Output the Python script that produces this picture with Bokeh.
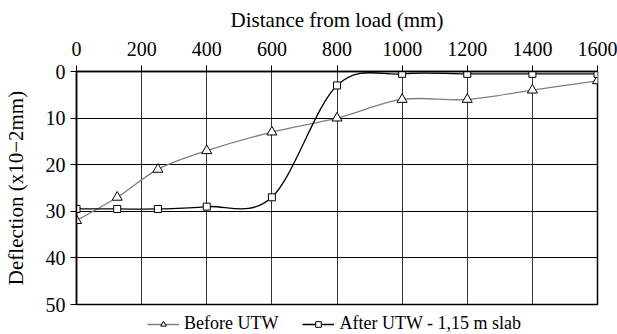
from bokeh.plotting import figure
from bokeh.models import Range1d, Legend, LegendItem, FixedTicker
from bokeh.layouts import column
from bokeh.embed import file_html
from bokeh.resources import INLINE

distance = [0, 125, 250, 400, 600, 800, 1000, 1200, 1400, 1600]
before_utw = [32, 27, 21, 17, 13, 10, 6, 6, 4, 2]
after_utw = [29.5, 29.5, 29.5, 29, 27, 3, 0.5, 0.5, 0.5, 0.5]
x_ticks = [0, 200, 400, 600, 800, 1000, 1200, 1400, 1600]
y_ticks = [0, 10, 20, 30, 40, 50]

FONT = "Liberation Serif"


def smooth_segments(xs, ys):
    n = len(xs)
    x0, y0, x1, y1, cx0, cy0, cx1, cy1 = [], [], [], [], [], [], [], []
    for i in range(n - 1):
        im = max(i - 1, 0)
        ip2 = min(i + 2, n - 1)
        x0.append(xs[i]); y0.append(ys[i])
        x1.append(xs[i + 1]); y1.append(ys[i + 1])
        cx0.append(xs[i] + (xs[i + 1] - xs[im]) / 6.0)
        cy0.append(ys[i] + (ys[i + 1] - ys[im]) / 6.0)
        cx1.append(xs[i + 1] - (xs[ip2] - xs[i]) / 6.0)
        cy1.append(ys[i + 1] - (ys[ip2] - ys[i]) / 6.0)
    return dict(x0=x0, y0=y0, x1=x1, y1=y1, cx0=cx0, cy0=cy0, cx1=cx1, cy1=cy1)


p = figure(width=617, height=315, output_backend="svg", toolbar_location=None,
           x_range=Range1d(0, 1600), y_range=Range1d(50, 0),
           x_axis_location="above",
           min_border_left=76, min_border_right=20, min_border_top=71,
           min_border_bottom=11)

p.background_fill_color = "white"
p.border_fill_color = "white"
p.outline_line_color = "black"
p.outline_line_width = 1.5

p.xaxis.ticker = FixedTicker(ticks=x_ticks)
p.yaxis.ticker = FixedTicker(ticks=y_ticks)
p.xaxis.axis_label = "Distance from load (mm)"
p.yaxis.axis_label = "Deflection (x10\u22122mm)"
for ax in (p.xaxis, p.yaxis):
    ax.axis_label_text_font = FONT
    ax.axis_label_text_font_style = "normal"
    ax.axis_label_text_font_size = "21px"
    ax.major_label_text_font = FONT
    ax.major_label_text_font_size = "20px"
    ax.major_label_text_color = "black"
    ax.axis_label_text_color = "black"
    ax.minor_tick_line_color = None
    ax.major_tick_in = 0
    ax.major_tick_out = 6
    ax.major_tick_line_color = "black"
    ax.axis_line_color = "black"
    ax.axis_line_width = 1.5
p.xaxis.axis_label_standoff = 7
p.xaxis.major_label_standoff = 10
p.yaxis.major_label_standoff = 5
p.yaxis.axis_label_standoff = 15

p.xgrid.ticker = FixedTicker(ticks=x_ticks)
p.ygrid.ticker = FixedTicker(ticks=y_ticks)
p.xgrid.grid_line_color = "#333333"
p.ygrid.grid_line_color = "black"
p.xgrid.grid_line_width = 1
p.ygrid.grid_line_width = 1

b = smooth_segments(distance, before_utw)
a = smooth_segments(distance, after_utw)
p.bezier(source=b, x0="x0", y0="y0", x1="x1", y1="y1", cx0="cx0", cy0="cy0",
         cx1="cx1", cy1="cy1", line_color="#7f7f7f", line_width=1.3)
p.bezier(source=a, x0="x0", y0="y0", x1="x1", y1="y1", cx0="cx0", cy0="cy0",
         cx1="cx1", cy1="cy1", line_color="black", line_width=1.3)

p.scatter(distance, before_utw, marker="triangle", size=10,
          fill_color="white", line_color="black", line_width=1)
p.scatter(distance, after_utw, marker="square", size=7,
          fill_color="white", line_color="black", line_width=1)

# separate small figure that only carries the legend
lf = figure(width=617, height=19, output_backend="svg", toolbar_location=None,
            x_range=Range1d(0, 1), y_range=Range1d(0, 1),
            x_axis_type=None, y_axis_type=None, min_border=0)
lf.outline_line_color = None
lf.xgrid.visible = False
lf.ygrid.visible = False
lf.background_fill_color = "white"
lf.border_fill_color = "white"

lb = lf.line(x=[-5, -4], y=[-5, -5], line_color="#7f7f7f", line_width=1.3)
la = lf.line(x=[-5, -4], y=[-5, -5], line_color="black", line_width=1.3)
mb = lf.scatter(x=[-5], y=[-5], marker="triangle", size=7,
                fill_color="white", line_color="black", line_width=1)
ma = lf.scatter(x=[-5], y=[-5], marker="square", size=5,
                fill_color="white", line_color="black", line_width=1)

legend = Legend(items=[
    LegendItem(label="Before UTW", renderers=[lb, mb]),
    LegendItem(label="After UTW - 1,15 m slab", renderers=[la, ma]),
], orientation="horizontal", location=(71, 0))
legend.label_text_font = FONT
legend.label_text_font_size = "18px"
legend.label_text_color = "black"
legend.glyph_width = 32
legend.glyph_height = 14
legend.spacing = 24
legend.padding = 0
legend.margin = 0
legend.label_standoff = 5
legend.label_height = 14
legend.border_line_color = None
legend.background_fill_alpha = 0
lf.add_layout(legend)

layout = column(p, lf, spacing=0)
open("out.html", "w").write(file_html(layout, INLINE))
